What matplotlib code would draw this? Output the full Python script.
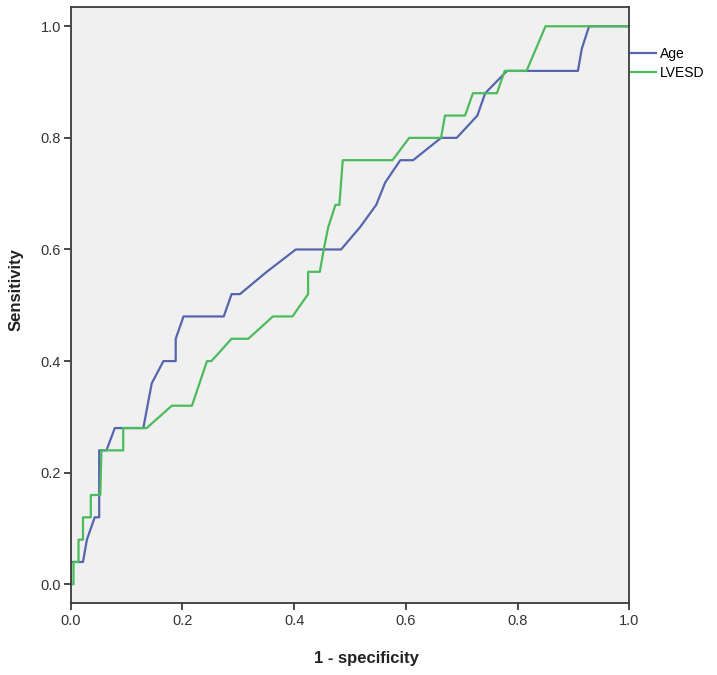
import numpy as np
import matplotlib
matplotlib.use('Agg')
import matplotlib.pyplot as plt

plt.rcParams['font.family'] = ['Liberation Sans', 'DejaVu Sans']

# ROC curve points (1 - specificity, sensitivity)
age_fpr = [0.0, 0.0, 0.022, 0.029, 0.043, 0.051, 0.051, 0.064, 0.079, 0.130, 0.145, 0.166,
           0.188, 0.188, 0.202, 0.274, 0.288, 0.303, 0.351, 0.403, 0.484, 0.518, 0.547,
           0.563, 0.590, 0.613, 0.663, 0.691, 0.728, 0.742, 0.781, 0.908, 0.915, 0.928, 1.0]
age_tpr = [0.0, 0.04, 0.04, 0.08, 0.12, 0.12, 0.24, 0.24, 0.28, 0.28, 0.36, 0.40,
           0.40, 0.44, 0.48, 0.48, 0.52, 0.52, 0.56, 0.60, 0.60, 0.64, 0.68,
           0.72, 0.76, 0.76, 0.80, 0.80, 0.84, 0.88, 0.92, 0.92, 0.96, 1.0, 1.0]

lvesd_fpr = [0.0, 0.005, 0.005, 0.014, 0.014, 0.022, 0.022, 0.036, 0.036, 0.053, 0.055,
             0.094, 0.094, 0.136, 0.181, 0.217, 0.244, 0.252, 0.288, 0.318, 0.362, 0.397,
             0.425, 0.425, 0.446, 0.453, 0.461, 0.474, 0.481, 0.484, 0.487, 0.576, 0.606,
             0.663, 0.670, 0.706, 0.720, 0.763, 0.777, 0.816, 0.850, 1.0]
lvesd_tpr = [0.0, 0.0, 0.04, 0.04, 0.08, 0.08, 0.12, 0.12, 0.16, 0.16, 0.24,
             0.24, 0.28, 0.28, 0.32, 0.32, 0.40, 0.40, 0.44, 0.44, 0.48, 0.48,
             0.52, 0.56, 0.56, 0.60, 0.64, 0.68, 0.68, 0.72, 0.76, 0.76, 0.80,
             0.80, 0.84, 0.84, 0.88, 0.88, 0.92, 0.92, 1.0, 1.0]

ticks = [0.0, 0.2, 0.4, 0.6, 0.8, 1.0]
tick_labels = ['0.0', '0.2', '0.4', '0.6', '0.8', '1.0']

fig = plt.figure(figsize=(7.17, 6.75), dpi=100)
ax = fig.add_axes([0.0986, 0.1071, 0.7791, 0.8821])
ax.set_facecolor('#f0f0f0')

l1, = ax.plot(age_fpr, age_tpr, color='#5566ae', lw=1.6, label='Age')
l2, = ax.plot(lvesd_fpr, lvesd_tpr, color='#4cbb5c', lw=1.6, label='LVESD')

ax.set_xlim(0, 1.0)
ax.set_ylim(-0.033, 1.034)
ax.set_xticks(ticks)
ax.set_xticklabels(tick_labels)
ax.set_yticks(ticks)
ax.set_yticklabels(tick_labels)

for sp in ax.spines.values():
    sp.set_color('#3a3a3a')
    sp.set_linewidth(1.3)
ax.tick_params(direction='out', length=5, width=1.3, color='#3a3a3a',
               labelsize=10.5, labelcolor='#333333', pad=2)
ax.tick_params(axis='x', pad=3)

fig.text(366 / 717, 1 - 658 / 675, '1 - specificity', ha='center', va='center',
         fontsize=12, fontweight='bold', color='#222222')
fig.text(16 / 717, 1 - 290 / 675, 'Sensitivity', ha='center', va='center',
         rotation=90, fontsize=12, fontweight='bold', color='#222222')

fig.legend(handles=[l1, l2], loc='upper left', bbox_to_anchor=(631 / 717, 1 - 47 / 675),
           frameon=False, fontsize=10, handlelength=1.8, handletextpad=0.3,
           borderpad=0, borderaxespad=0, labelspacing=0.35)

plt.savefig('out.png', dpi=100)
